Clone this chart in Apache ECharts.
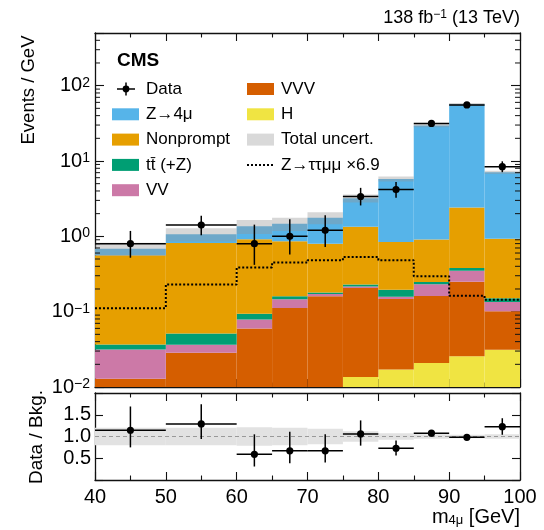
<!DOCTYPE html>
<html>
<head>
<meta charset="utf-8">
<script src="https://cdn.jsdelivr.net/npm/echarts@6.0.0/dist/echarts.min.js"></script>
<style>
  html, body { margin: 0; padding: 0; background: #fff; }
  #chart { width: 544px; height: 530px; }
</style>
</head>
<body>
<div id="chart"></div>
<script>
// Four-muon invariant mass binning (GeV)
const binEdges = [40, 50, 60, 65, 70, 75, 80, 85, 90, 95, 100];

// Expected background yields per process (events / GeV), stacked bottom to top
const higgs     = [0.002, 0.003, 0.004, 0.006, 0.008, 0.0136, 0.0171, 0.0208, 0.0255, 0.0312];
const vvv       = [0.0109, 0.0255, 0.0557, 0.106, 0.152, 0.193, 0.130, 0.140, 0.224, 0.070];
const vv        = [0.0186, 0.0078, 0.0188, 0.034, 0.011, 0.009, 0.011, 0.071, 0.099, 0.033];
const ttz       = [0.0052, 0.0149, 0.0155, 0.014, 0.009, 0.014, 0.037, 0.015, 0.030, 0.016];
const nonprompt = [0.524, 0.765, 0.818, 0.699, 0.62, 1.11, 0.645, 0.663, 2.04, 0.78];
const z4mu      = [0.126, 0.25, 0.45, 0.61, 0.97, 1.86, 4.94, 28.6, 54.2, 6.14];

// Z -> tau tau mu mu signal, scaled by 6.9 (events / GeV)
const zTauTauMuMu = [0.111, 0.230, 0.386, 0.449, 0.482, 0.533, 0.482, 0.296, 0.163, 0.144];

// Relative total uncertainty of the background prediction
const totalUnc = [0.20, 0.20, 0.21, 0.20, 0.18, 0.12, 0.075, 0.05, 0.04, 0.05];

// Observed data (events / GeV) with asymmetric interval edges
const dataVal  = [0.80, 1.41, 0.80, 1.00, 1.20, 3.38, 4.18, 31.5, 55.5, 8.4];
const dataLow  = [0.52, 1.03, 0.418, 0.573, 0.72, 2.57, 3.24, 29.0, 52.2, 7.1];
const dataHigh = [1.18, 1.88, 1.43, 1.68, 1.91, 4.40, 5.28, 34.0, 58.8, 9.9];

// Data / background ratio with interval edges
const ratioVal  = [1.144, 1.29, 0.59, 0.67, 0.67, 1.06, 0.73, 1.076, 0.98, 1.225];
const ratioLow  = [0.75, 0.94, 0.31, 0.385, 0.40, 0.79, 0.565, 1.0, 0.93, 1.04];
const ratioHigh = [1.69, 1.74, 1.05, 1.11, 1.05, 1.37, 0.91, 1.15, 1.03, 1.42];

// Axis ranges
const Y_MIN = 0.01, Y_MAX = 500;

const FONT = '"Liberation Sans", Helvetica, Arial, sans-serif';
const colors = {
  z4mu: '#56B4E9', nonprompt: '#E69F00', ttz: '#009E73', vv: '#CC79A7',
  vvv: '#D55E00', higgs: '#F0E442', unc: 'rgba(150,150,150,0.38)', ratioUnc: '#e2e2e2'
};

// Build the stack: lower and upper edge of each process in every bin
const stackLayers = [
  { name: 'H', values: higgs, color: colors.higgs },
  { name: 'VVV', values: vvv, color: colors.vvv },
  { name: 'VV', values: vv, color: colors.vv },
  { name: 'ttZ', values: ttz, color: colors.ttz },
  { name: 'Nonprompt', values: nonprompt, color: colors.nonprompt },
  { name: 'Z4mu', values: z4mu, color: colors.z4mu }
];
let running = higgs.map(() => 0);
stackLayers.forEach(layer => {
  layer.lo = running.slice();
  running = running.map((r, i) => r + layer.values[i]);
  layer.hi = running.slice();
});
const totalBkg = running;

function rectSeries(name, lo, hi, fill, xi, yi, floor) {
  return {
    type: 'custom', name, xAxisIndex: xi, yAxisIndex: yi, silent: true, clip: true,
    data: lo.map((l, i) => [binEdges[i], binEdges[i + 1], l, hi[i]]),
    encode: { x: [0, 1], y: 3 },
    renderItem: (params, api) => {
      const x0 = api.value(0), x1 = api.value(1);
      const y0 = Math.max(api.value(2), floor), y1 = api.value(3);
      if (y1 <= floor) return null;
      const a = api.coord([x0, y0]);
      const b = api.coord([x1, y1]);
      return {
        type: 'rect',
        shape: { x: a[0], y: b[1], width: b[0] - a[0], height: a[1] - b[1] },
        style: { fill }
      };
    }
  };
}

function pointSeries(name, val, low, high, xi, yi) {
  return {
    type: 'custom', name, xAxisIndex: xi, yAxisIndex: yi, silent: true, z: 10,
    data: val.map((v, i) => [binEdges[i], binEdges[i + 1], v, low[i], high[i]]),
    encode: { x: [0, 1], y: 2 },
    renderItem: (params, api) => {
      const xm = (api.value(0) + api.value(1)) / 2;
      const c = api.coord([xm, api.value(2)]);
      const l = api.coord([api.value(0), api.value(2)]);
      const r = api.coord([api.value(1), api.value(2)]);
      const lo = api.coord([xm, api.value(3)]);
      const hi = api.coord([xm, api.value(4)]);
      const ls = { stroke: '#000', lineWidth: 1.5 };
      return {
        type: 'group',
        children: [
          { type: 'line', shape: { x1: l[0], y1: c[1], x2: r[0], y2: c[1] }, style: ls },
          { type: 'line', shape: { x1: c[0], y1: lo[1], x2: c[0], y2: hi[1] }, style: ls },
          { type: 'circle', shape: { cx: c[0], cy: c[1], r: 3.6 }, style: { fill: '#000' } }
        ]
      };
    }
  };
}

// Step outline of the scaled signal
const signalLine = [];
zTauTauMuMu.forEach((v, i) => { signalLine.push([binEdges[i], v], [binEdges[i + 1], v]); });

// Minor ticks of the log axis (2..9 in each decade)
const logMinor = [];
for (let e = -2; e <= 2; e++) for (let m = 2; m <= 9; m++) {
  const v = m * Math.pow(10, e);
  if (v < Y_MAX) logMinor.push([v]);
}

const bandLo = totalBkg.map((t, i) => t * (1 - totalUnc[i]));
const bandHi = totalBkg.map((t, i) => t * (1 + totalUnc[i]));
const rBandLo = totalUnc.map(u => 1 - u);
const rBandHi = totalUnc.map(u => 1 + u);

const frame = { show: true, onZero: false, lineStyle: { color: '#111', width: 1.3 } };
const tickStyle = { color: '#111', width: 1.1 };

function xAxisDef(gi, pos, labels) {
  return {
    type: 'value', gridIndex: gi, position: pos, min: 40, max: 100, interval: 10,
    axisLine: frame, splitLine: { show: false },
    axisTick: { show: true, inside: true, length: 8, lineStyle: tickStyle },
    minorTick: { show: true, splitNumber: 2, length: 4.5, lineStyle: tickStyle },
    axisLabel: { show: labels, color: '#000', fontSize: 20, fontFamily: FONT, margin: 7 }
  };
}

function logLabel(v) {
  const e = Math.round(Math.log10(v));
  if (Math.abs(Math.log10(v) - e) > 1e-6) return '';
  return '{b|10}{e|' + (e < 0 ? '\u2212' + (-e) : e) + '}';
}

function yLogDef(pos, labels) {
  return {
    type: 'log', logBase: 10, gridIndex: 0, position: pos, min: Y_MIN, max: Y_MAX,
    axisLine: frame, splitLine: { show: false },
    axisTick: { show: true, inside: true, length: 9, lineStyle: tickStyle },
    axisLabel: {
      show: labels, margin: 5, formatter: logLabel,
      rich: {
        b: { fontSize: 20, fontFamily: FONT, color: '#000' },
        e: { fontSize: 14, fontFamily: FONT, color: '#000', verticalAlign: 'top' }
      }
    }
  };
}

function yRatioDef(pos, labels) {
  return {
    type: 'value', gridIndex: 1, position: pos, min: 0, max: 2, interval: 0.5,
    axisLine: frame, splitLine: { show: false },
    axisTick: { show: true, inside: true, length: 8, lineStyle: tickStyle },
    axisLabel: {
      show: labels, color: '#000', fontSize: 20, fontFamily: FONT, margin: 4,
      formatter: v => (v > 0.01 && v < 1.99) ? v.toFixed(1) : ''
    }
  };
}

// Legend entries
const legendLeft = [
  { label: 'Data', kind: 'data' },
  { label: 'Z\u21924\u03bc', kind: 'box', color: colors.z4mu },
  { label: 'Nonprompt', kind: 'box', color: colors.nonprompt },
  { label: 'tt\u0304 (+Z)', kind: 'box', color: colors.ttz },
  { label: 'VV', kind: 'box', color: colors.vv }
];
const legendRight = [
  { label: 'VVV', kind: 'box', color: colors.vvv },
  { label: 'H', kind: 'box', color: colors.higgs },
  { label: 'Total uncert.', kind: 'box', color: '#d9d9d9' },
  { label: 'Z\u2192\u03c4\u03c4\u03bc\u03bc \u00d76.9', kind: 'dots' }
];

function legendItems(entries, x0, y0, step) {
  const out = [];
  entries.forEach((en, k) => {
    const cy = y0 + k * step;
    if (en.kind === 'box') {
      out.push({ type: 'rect', shape: { x: x0, y: cy - 6, width: 27, height: 12 }, style: { fill: en.color } });
    } else if (en.kind === 'data') {
      out.push({ type: 'line', shape: { x1: x0 + 5, y1: cy, x2: x0 + 23, y2: cy }, style: { stroke: '#000', lineWidth: 1.5 } });
      out.push({ type: 'line', shape: { x1: x0 + 14, y1: cy - 6.5, x2: x0 + 14, y2: cy + 6.5 }, style: { stroke: '#000', lineWidth: 1.5 } });
      out.push({ type: 'circle', shape: { cx: x0 + 14, cy: cy, r: 3.4 }, style: { fill: '#000' } });
    } else {
      out.push({ type: 'line', shape: { x1: x0, y1: cy, x2: x0 + 27, y2: cy }, style: { stroke: '#000', lineWidth: 2, lineDash: [2, 2] } });
    }
    out.push({
      type: 'text', x: x0 + 34, y: cy,
      style: { text: en.label, fill: '#000', font: '17px ' + FONT, align: 'left', verticalAlign: 'middle' }
    });
  });
  return out;
}

const chart = echarts.init(document.getElementById('chart'), null, { renderer: 'canvas' });

chart.setOption({
  backgroundColor: '#fff',
  animation: false,
  textStyle: { fontFamily: FONT },
  grid: [
    { left: 95, top: 33, width: 425, height: 354 },
    { left: 95, top: 393, width: 425, height: 87 }
  ],
  xAxis: [
    xAxisDef(0, 'bottom', false), xAxisDef(0, 'top', false),
    xAxisDef(1, 'bottom', true), xAxisDef(1, 'top', false)
  ],
  yAxis: [
    yLogDef('left', true), yLogDef('right', false),
    yRatioDef('left', true), yRatioDef('right', false)
  ],
  series: [
    ...stackLayers.map(l => rectSeries(l.name, l.lo, l.hi, l.color, 0, 0, Y_MIN)),
    rectSeries('Total uncert.', bandLo, bandHi, colors.unc, 0, 0, Y_MIN),
    {
      type: 'line', name: 'signal', xAxisIndex: 0, yAxisIndex: 0, data: signalLine,
      showSymbol: false, silent: true, z: 5,
      lineStyle: { color: '#000', width: 2, type: [2, 2] }
    },
    pointSeries('Data', dataVal, dataLow, dataHigh, 0, 0),
    {
      type: 'custom', name: 'logMinorTicks', xAxisIndex: 0, yAxisIndex: 0, silent: true, z: 20,
      data: logMinor, encode: { y: 0 },
      renderItem: (params, api) => {
        const yv = api.value(0);
        const pl = api.coord([40, yv]);
        const pr = api.coord([100, yv]);
        const st = { stroke: '#111', lineWidth: 1 };
        return {
          type: 'group', children: [
            { type: 'line', shape: { x1: pl[0], y1: pl[1], x2: pl[0] + 5, y2: pl[1] }, style: st },
            { type: 'line', shape: { x1: pr[0] - 5, y1: pr[1], x2: pr[0], y2: pr[1] }, style: st }
          ]
        };
      }
    },
    Object.assign(rectSeries('ratioUnc', rBandLo, rBandHi, colors.ratioUnc, 2, 2, 0), {
      markLine: {
        silent: true, symbol: 'none', label: { show: false },
        lineStyle: { color: '#999', type: [4, 3], width: 1.2 },
        data: [{ yAxis: 1 }]
      }
    }),
    pointSeries('Ratio', ratioVal, ratioLow, ratioHigh, 2, 2)
  ],
  graphic: [
    {
      type: 'text', x: 520, y: 18,
      style: {
        text: '{a|138 fb}{s|\u22121}{a| (13 TeV)}', align: 'right', verticalAlign: 'middle',
        rich: {
          a: { fontSize: 18, fontFamily: FONT, fill: '#000', color: '#000' },
          s: { fontSize: 12, fontFamily: FONT, fill: '#000', color: '#000', verticalAlign: 'top' }
        }
      }
    },
    {
      type: 'text', x: 117, y: 61,
      style: { text: 'CMS', font: 'bold 19px ' + FONT, fill: '#000', align: 'left', verticalAlign: 'middle' }
    },
    {
      type: 'text', x: 29, y: 90, rotation: Math.PI / 2,
      style: { text: 'Events / GeV', font: '18.5px ' + FONT, fill: '#000', align: 'center', verticalAlign: 'middle' }
    },
    {
      type: 'text', x: 37, y: 437, rotation: Math.PI / 2,
      style: { text: 'Data / Bkg.', font: '19px ' + FONT, fill: '#000', align: 'center', verticalAlign: 'middle' }
    },
    {
      type: 'text', x: 520, y: 517,
      style: {
        text: '{a|m}{s|4\u03bc}{a| [GeV]}', align: 'right', verticalAlign: 'middle',
        rich: {
          a: { fontSize: 20, fontFamily: FONT, color: '#000' },
          s: { fontSize: 13, fontFamily: FONT, color: '#000', verticalAlign: 'bottom' }
        }
      }
    },
    ...legendItems(legendLeft, 112, 89, 25.3),
    ...legendItems(legendRight, 247, 89, 25.3)
  ]
});
</script>
</body>
</html>
